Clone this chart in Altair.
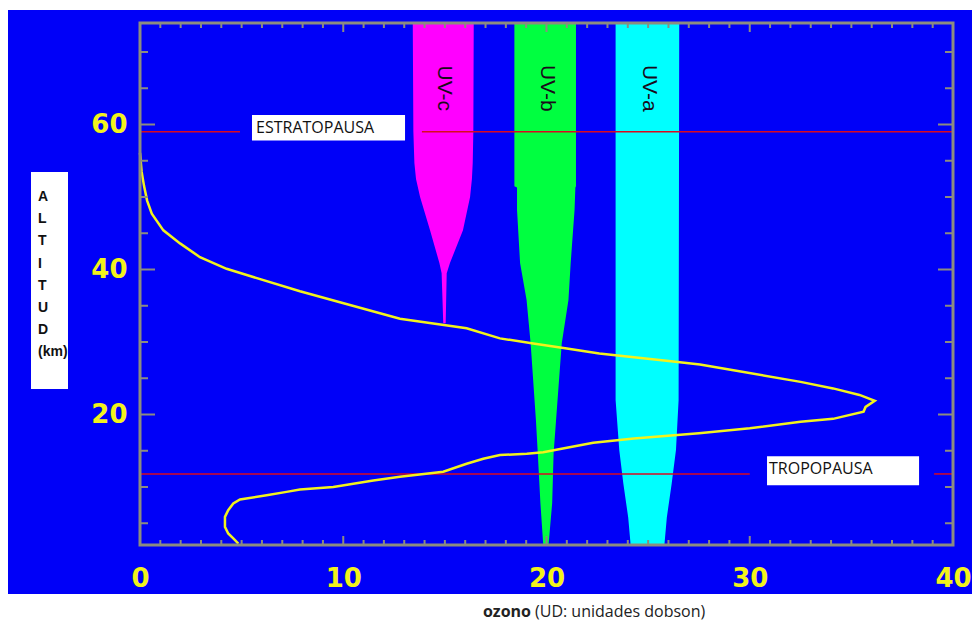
import altair as alt
import pandas as pd

# ---------------- data ----------------
# ozone profile (DU, km), top to bottom
oz_x = [0.0, 0.08, 0.2, 0.35, 0.58, 1.15, 1.97, 2.95, 4.26, 5.41, 7.87, 10.33, 12.79,
        16.07, 17.71, 19.35, 21.0, 22.6, 24.3, 25.9, 27.55, 29.2, 32.5, 34.1, 35.4,
        36.15, 35.7, 35.6, 34.1, 32.5, 30.0, 27.5, 24.3, 22.3, 21.0, 19.84, 19.03,
        17.71, 16.89, 16.07, 14.92, 12.79, 11.48, 9.51, 7.87, 7.21, 6.23, 4.92, 4.59,
        4.34, 4.18, 4.18, 4.34, 4.59, 4.84]
oz_y = [56.1, 53.5, 51.5, 49.5, 47.7, 45.4, 43.6, 41.7, 40.1, 39.1, 37.0, 35.1, 33.2,
        31.9, 30.5, 29.8, 29.1, 28.4, 27.9, 27.4, 26.9, 26.1, 24.5, 23.6, 22.7,
        21.9, 21.05, 20.4, 19.4, 19.0, 18.1, 17.4, 16.7, 16.1, 15.4, 14.8, 14.6,
        14.4, 13.9, 13.2, 12.1, 11.4, 10.9, 10.0, 9.66, 9.33, 8.87, 8.28, 7.72,
        6.8, 5.88, 4.5, 3.59, 2.9, 2.2]

# UV bands: altitude and left / right edges (DU axis units)
uvc_y = [32.6, 39.5, 40.9, 45.4, 50, 52.5, 54.7, 59, 74]
uvc_l = [14.92, 14.84, 14.73, 14.27, 13.78, 13.58, 13.50, 13.45, 13.42]
uvc_r = [15.04, 15.09, 15.25, 15.89, 16.24, 16.33, 16.37, 16.40, 16.42]

uvb_y = [2, 7.8, 14.7, 19.2, 29.8, 35.8, 40.9, 48.2, 51.3, 51.5, 74]
uvb_l = [19.84, 19.70, 19.57, 19.48, 19.22, 19.02, 18.70, 18.55, 18.55, 18.42, 18.42]
uvb_r = [20.10, 20.28, 20.35, 20.47, 20.75, 21.08, 21.19, 21.38, 21.42, 21.45, 21.45]

uva_y = [2, 5.8, 10.5, 15.1, 22, 74]
uva_l = [24.14, 24.02, 23.78, 23.58, 23.40, 23.40]
uva_r = [25.80, 25.92, 26.16, 26.37, 26.50, 26.53]

uv_names = ["UV-c", "UV-b", "UV-a"]
uv_label_x = [14.96, 20.0, 25.05]
uv_label_y = [65.0, 65.0, 65.0]

# reference levels
levels = ["ESTRATOPAUSA", "TROPOPAUSA"]
seg_x0 = [0.0, 13.87, 0.0, 39.07]
seg_x1 = [4.92, 40.0, 30.0, 40.0]
seg_y = [59.0, 59.0, 11.8, 11.8]
box_x0 = [5.51, 30.85]
box_x1 = [13.04, 38.33]
box_y0 = [57.8, 10.25]
box_y1 = [61.3, 14.25]
lab_x = [5.71, 30.95]
lab_y = [59.5, 12.45]

x_labels = [0, 10, 20, 30, 40]
y_labels = [20, 40, 60]
x_minor = [v for v in range(1, 40) if v % 10]
x_major = [10, 20, 30]
y_minor = [5, 10, 15, 25, 30, 35, 45, 50, 55, 65, 70]
y_major = [20, 40, 60]

# ---------------- style ----------------
W, H = 813, 522
BLUE = "#0000f8"
YEL = "#f2f21c"
GRAY = "#8c8c80"
RED = "#d80a20"

xscale = alt.Scale(domain=[0, 40], nice=False, zero=False)
yscale = alt.Scale(domain=[2, 74], nice=False, zero=False)
xaxis = alt.Axis(values=x_labels, grid=False, domain=False, ticks=False, tickSize=0,
                 labelColor=YEL, labelFont="DejaVu Sans", labelFontWeight="bold",
                 labelFontSize=26, labelPadding=20, labelFlush=False, labelOverlap=False,
                 title=None, zindex=2)
yaxis = alt.Axis(values=y_labels, grid=False, domain=False, ticks=False, tickSize=0,
                 labelColor=YEL, labelFont="DejaVu Sans", labelFontWeight="bold",
                 labelFontSize=26, labelPadding=13, labelOverlap=False, title=None,
                 zindex=2)


def X(f):
    return alt.X(f, type="quantitative", scale=xscale, axis=xaxis)


def Y(f):
    return alt.Y(f, type="quantitative", scale=yscale, axis=yaxis)


one = pd.DataFrame({"k": [0]})
oz = pd.DataFrame({"x": oz_x, "y": oz_y, "i": list(range(len(oz_x)))})

layers = []
# blue background panel (extends beyond plot area)
layers.append(alt.Chart(one).mark_rect(color=BLUE).encode(
    x=alt.value(-133), x2=alt.value(832), y=alt.value(-13), y2=alt.value(571)))

for ys, ls, rs, col in [(uvc_y, uvc_l, uvc_r, "#ff00ff"),
                        (uvb_y, uvb_l, uvb_r, "#00ff40"),
                        (uva_y, uva_l, uva_r, "#00ffff")]:
    d = pd.DataFrame({"y": ys, "l": ls, "r": rs})
    layers.append(alt.Chart(d).mark_area(orient="horizontal", color=col, opacity=1).encode(
        y=Y("y"), x=X("l"), x2="r:Q"))

segs = pd.DataFrame({"x0": seg_x0, "x1": seg_x1, "y": seg_y})
layers.append(alt.Chart(segs).mark_rule(color=RED, strokeWidth=1.5).encode(
    x=X("x0"), x2="x1:Q", y=Y("y")))

layers.append(alt.Chart(oz).mark_line(color=YEL, strokeWidth=2.5).encode(
    x=X("x"), y=Y("y"), order=alt.Order("i:Q")))

uv = pd.DataFrame({"t": uv_names, "x": uv_label_x, "y": uv_label_y})
layers.append(alt.Chart(uv).mark_text(angle=90, font="Liberation Sans", fontSize=21,
                                      color="#1a0a1a", align="center", baseline="middle").encode(
    x=X("x"), y=Y("y"), text="t:N"))

boxes = pd.DataFrame({"x0": box_x0, "x1": box_x1, "y0": box_y0, "y1": box_y1})
layers.append(alt.Chart(boxes).mark_rect(color="white").encode(
    x=X("x0"), x2="x1:Q", y=Y("y0"), y2="y1:Q"))
labs = pd.DataFrame({"t": levels, "x": lab_x, "y": lab_y})
layers.append(alt.Chart(labs).mark_text(font="Open Sans", fontSize=16, color="#111111",
                                        align="left", baseline="middle").encode(
    x=X("x"), y=Y("y"), text="t:N"))

# altitude label box
layers.append(alt.Chart(one).mark_rect(color="white").encode(
    x=alt.value(-109), x2=alt.value(-72), y=alt.value(149), y2=alt.value(366)))
layers.append(alt.Chart(one).mark_text(
    text=["A", "L", "T", "I", "T", "U", "D", "(km)"], lineHeight=22.2,
    font="Liberation Sans", fontWeight="bold", fontSize=14, color="#111111",
    align="left", baseline="middle").encode(x=alt.value(-102), y=alt.value(174)))

# bottom title
layers.append(alt.Chart(one).mark_text(
    text="ozono", font="Open Sans", fontWeight="bold", fontSize=16, color="#222222",
    align="right", baseline="middle").encode(x=alt.value(391), y=alt.value(589)))
layers.append(alt.Chart(one).mark_text(
    text="(UD: unidades dobson)", font="Open Sans", fontSize=16, color="#222222",
    align="left", baseline="middle").encode(x=alt.value(395), y=alt.value(589)))

# frame
layers.append(alt.Chart(one).mark_rect(fillOpacity=0, stroke=GRAY, strokeWidth=3).encode(
    x=alt.value(0), x2=alt.value(W), y=alt.value(0), y2=alt.value(H)))

# inward ticks
xmin = pd.DataFrame({"t": x_minor})
xmaj = pd.DataFrame({"t": x_major})
ymin = pd.DataFrame({"t": y_minor})
ymaj = pd.DataFrame({"t": y_major})
for d, ln in [(xmin, 5), (xmaj, 9)]:
    layers.append(alt.Chart(d).mark_rule(color=GRAY, strokeWidth=2).encode(
        x=X("t"), y=alt.value(H), y2=alt.value(H - ln)))
    layers.append(alt.Chart(d).mark_rule(color=GRAY, strokeWidth=2).encode(
        x=X("t"), y=alt.value(0), y2=alt.value(ln)))
for d, ln in [(ymin, 8), (ymaj, 15)]:
    layers.append(alt.Chart(d).mark_rule(color=GRAY, strokeWidth=2).encode(
        y=Y("t"), x=alt.value(0), x2=alt.value(ln)))
    layers.append(alt.Chart(d).mark_rule(color=GRAY, strokeWidth=2).encode(
        y=Y("t"), x=alt.value(W), x2=alt.value(W - ln)))

chart = alt.layer(*layers).properties(
    width=W, height=H,
    autosize=alt.AutoSizeParams(type="none"),
    padding={"left": 132, "top": 15, "right": 19, "bottom": 76},
    background="white",
).configure_view(strokeWidth=0)

chart.save("out.html", embed_options={"renderer": "svg", "actions": False})
